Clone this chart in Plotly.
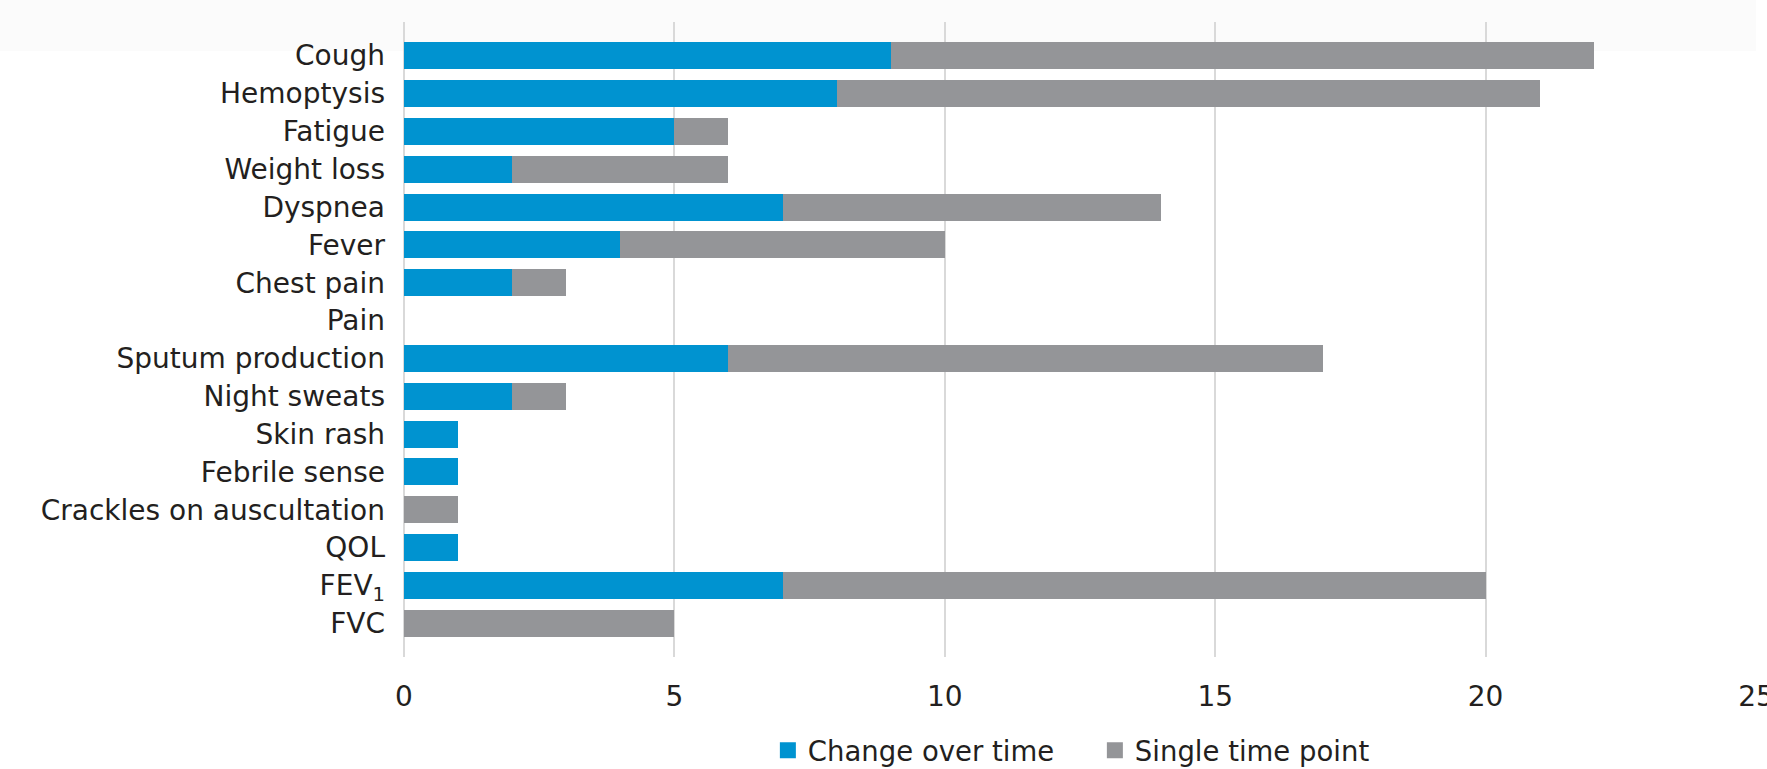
import plotly.graph_objects as go

categories = ["Cough", "Hemoptysis", "Fatigue", "Weight loss", "Dyspnea", "Fever",
              "Chest pain", "Pain", "Sputum production", "Night sweats", "Skin rash",
              "Febrile sense", "Crackles on auscultation", "QOL", "FEV<sub>1</sub>", "FVC"]
change_over_time = [9, 8, 5, 2, 7, 4, 2, 0, 6, 2, 1, 1, 0, 1, 7, 0]
single_time_point = [13, 13, 1, 4, 7, 6, 1, 0, 11, 1, 0, 0, 1, 0, 13, 5]
x_ticks = [0, 5, 10, 15, 20, 25]

BLUE = "#0093d0"
GRAY = "#949598"
FONT = "DejaVu Sans"
TXT = "#231f20"

fig = go.Figure()
fig.add_trace(go.Bar(y=categories, x=change_over_time, orientation="h",
                     marker=dict(color=BLUE, line=dict(width=0)),
                     name="Change over time", showlegend=False))
fig.add_trace(go.Bar(y=categories, x=single_time_point, orientation="h",
                     marker=dict(color=GRAY, line=dict(width=0)),
                     name="Single time point", showlegend=False))
# legend entries
fig.add_trace(go.Scatter(x=[None], y=[None], mode="markers",
                         marker=dict(symbol="square", size=18, color=BLUE),
                         name="Change over time"))
fig.add_trace(go.Scatter(x=[None], y=[None], mode="markers",
                         marker=dict(symbol="square", size=18, color=GRAY),
                         name="Single time point"))

W, H = 1767, 769
L, R, T, B = 404, 11, 22, 112

fig.update_layout(
    width=W, height=H,
    margin=dict(l=L, r=R, t=T, b=B, pad=0, autoexpand=False),
    barmode="stack",
    bargap=0.287,
    paper_bgcolor="white",
    plot_bgcolor="white",
    font=dict(family=FONT, size=28, color=TXT),
    legend=dict(orientation="h", traceorder="normal",
                x=0.511, xanchor="center", y=-0.147, yanchor="middle",
                font=dict(family=FONT, size=27.5, color=TXT),
                entrywidth=282, bgcolor="rgba(0,0,0,0)"),
    shapes=[dict(type="rect", xref="paper", yref="paper",
                 x0=-L / (W - L - R), x1=1.0,
                 y0=1 - (51 - T) / (H - T - B), y1=1 + T / (H - T - B),
                 fillcolor="#fbfbfb", line=dict(width=0), layer="below")],
)
fig.update_xaxes(range=[0, 25], tickvals=x_ticks, showgrid=True, automargin=False,
                 gridcolor="#d9d9d9", gridwidth=2, zeroline=True,
                 zerolinecolor="#d9d9d9", zerolinewidth=2, showline=False,
                 ticks="", ticklabelstandoff=20, ticklabeloverflow="allow",
                 tickfont=dict(family=FONT, size=28, color=TXT), fixedrange=True)
fig.update_yaxes(type="category", categoryorder="array", categoryarray=categories,
                 range=[15.89, -0.89], showgrid=False, zeroline=False, showline=False,
                 automargin=False, ticks="", ticklabelstandoff=18,
                 tickfont=dict(family=FONT, size=28, color=TXT), fixedrange=True)

fig.write_html("out.html", config=dict(displayModeBar=False))
